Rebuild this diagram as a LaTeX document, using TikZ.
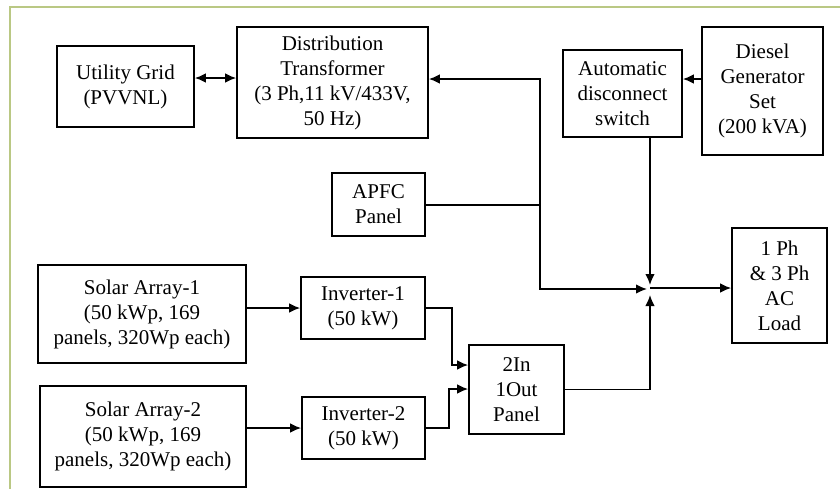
\documentclass[tikz,border=0pt]{standalone}
\usepackage{fontspec}
\setmainfont{Liberation Serif}
\usetikzlibrary{arrows.meta}
\definecolor{frame}{RGB}{186,200,132}

\begin{document}
\begin{tikzpicture}[x=0.5pt,y=-0.5pt,
 every node/.style={font=\fontsize{10.5}{12.5}\selectfont, align=center},
 blk/.style 2 args={draw, line width=0.9pt, inner sep=0pt,
   minimum width=#1*0.5pt, minimum height=#2*0.5pt},
 wire/.style={line width=0.75pt},
 >={Latex[length=5.5pt,width=4.8pt]}]
\useasboundingbox (0,0) rectangle (840,489);
\draw[frame, line width=0.8pt] (840,7) -- (10,7) -- (10,489);

\node[blk={137}{81}] (grid) at (125.5,86.5) {Utility Grid\\(PVVNL)};
\node[blk={191}{111}] (trans) at (332.5,82.5)
  {Distribution\\Transformer\\(3 Ph,11 kV/433V,\\50 Hz)};
\node[blk={93}{63}] (apfc) at (378.5,204.5) {APFC\\Panel};
\node[blk={119}{87}] (ads) at (622.5,93.5) {Automatic\\disconnect\\switch};
\node[blk={121}{128}] (dg) at (762.5,91) {Diesel\\Generator\\Set\\(200 kVA)};
\node[blk={95}{115}] (load) at (779.5,285.5) {1 Ph\\\& 3 Ph\\AC\\Load};
\node[blk={208}{98}] (sa1) at (142,314)
  {Solar Array-1\\(50 kWp, 169\\panels, 320Wp each)};
\node[blk={124}{62}] (inv1) at (363,308) {Inverter-1\\(50 kW)};
\node[blk={206}{101}] (sa2) at (143,436.5)
  {Solar Array-2\\(50 kWp, 169\\panels, 320Wp each)};
\node[blk={123}{62}] (inv2) at (363.5,428) {Inverter-2\\(50 kW)};
\node[blk={95}{89}] (pnl) at (516.5,389.5) {2In\\1Out\\Panel};

\coordinate (J) at (650,288);
\coordinate (bus) at (540,289);

\draw[wire,<->] (grid.east |- 0,78) -- (trans.west |- 0,78);
\draw[wire,<->] (trans.east |- 0,79) -| (bus) -- ([xshift=-1.5pt]J |- bus);
\draw[wire] (apfc.east |- 0,205) -- (bus |- 0,205);
\draw[wire,->] (dg.west |- 0,79) -- (ads.east |- 0,79);
\draw[wire,->] (ads.south -| J) -- ([yshift=1.5pt]J);
\draw[wire,->] (J) -- (J -| load.west);
\draw[wire,->] (sa1.east |- inv1.west) -- (inv1.west);
\draw[wire,->] (sa2.east |- inv2.west) -- (inv2.west);
\draw[wire,->] (inv1.east) -- ++(26,0) |- (pnl.west |- 0,365);
\draw[wire,->] (inv2.east) -- ++(23,0) |- (pnl.west |- 0,389);
\draw[wire,->] (pnl.east) -| ([yshift=-3.5pt]J);
\end{tikzpicture}
\end{document}
